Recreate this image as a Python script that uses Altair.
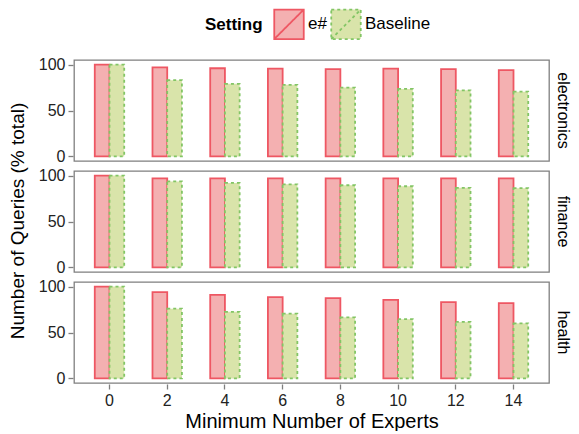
import altair as alt
import pandas as pd

experts = [0, 2, 4, 6, 8, 10, 12, 14]
settings = ["e#", "Baseline"]
domains = ["electronics", "finance", "health"]

electronics_esharp = [100, 97, 96, 95.5, 95, 95.5, 95, 94]
electronics_base = [100, 83, 79, 78, 75, 73.5, 72, 70.5]
finance_esharp = [100, 97, 97, 97, 97, 97, 97, 97]
finance_base = [100, 93.7, 92, 90.5, 89.5, 88.4, 86.7, 86.3]
health_esharp = [100, 94, 91, 88.5, 87.5, 85.5, 83, 82]
health_base = [100, 76, 72.5, 70.5, 66.5, 64.5, 61.5, 60]

series = {
    ("electronics", "e#"): electronics_esharp,
    ("electronics", "Baseline"): electronics_base,
    ("finance", "e#"): finance_esharp,
    ("finance", "Baseline"): finance_base,
    ("health", "e#"): health_esharp,
    ("health", "Baseline"): health_base,
}

rows = []
for (dom, s), vals in series.items():
    for e, v in zip(experts, vals):
        rows.append({"domain": dom, "Setting": s, "experts": e, "value": v})
df = pd.DataFrame(rows)

fill_colors = ["#F4B0B1", "#D9E4AA"]
stroke_colors = ["#EE5763", "#83C565"]
sym = "M-1,-1H1V1H-1Z M-1,1L1,-1"


def make_legend():
    return alt.Legend(
        title="Setting", orient="none", legendX=131, legendY=-52,
        direction="horizontal", symbolType=sym, symbolSize=870,
        symbolStrokeWidth=1.8, titleOrient="left", titleFontSize=17,
        titleFontWeight="bold", labelFontSize=17, titleColor="#000",
        labelColor="#000", symbolOpacity=1, columnPadding=0,
        labelOffset=3, titlePadding=10, titleBaseline="middle",
    )


base = alt.Chart(df).mark_bar(strokeWidth=1.8, fillOpacity=1).encode(
    x=alt.X(
        "experts:O",
        title="Minimum Number of Experts",
        scale=alt.Scale(paddingInner=0.49, paddingOuter=0.36),
        axis=alt.Axis(labelAngle=0, labelFontSize=16, titleFontSize=20,
                      titleFontWeight="normal", labelColor="#222",
                      tickColor="#7F7F7F", domain=False, tickSize=5,
                      tickWidth=1.3, labelPadding=3, titlePadding=3,
                      titleColor="#000"),
    ),
    xOffset=alt.XOffset("Setting:N", sort=settings),
    y=alt.Y(
        "value:Q",
        title=None,
        scale=alt.Scale(domain=[-5, 105], nice=False, zero=False),
        axis=alt.Axis(values=[0, 50, 100], labelFontSize=16, labelColor="#222",
                      tickColor="#7F7F7F", domain=False, grid=False, tickSize=5,
                      tickWidth=1.3, labelPadding=3),
    ),
    fill=alt.Fill(
        "Setting:N",
        sort=settings,
        scale=alt.Scale(domain=settings, range=fill_colors),
        legend=make_legend(),
    ),
    stroke=alt.Stroke(
        "Setting:N",
        sort=settings,
        scale=alt.Scale(domain=settings, range=stroke_colors),
        legend=make_legend(),
    ),
    strokeDash=alt.StrokeDash(
        "Setting:N",
        sort=settings,
        scale=alt.Scale(domain=settings, range=[[1, 0], [3, 3]]),
        legend=make_legend(),
    ),
).properties(width=475, height=101)

chart = base.facet(
    row=alt.Row(
        "domain:N",
        sort=domains,
        header=alt.Header(
            title="Number of Queries (% total)",
            titleOrient="left",
            titleFontSize=19,
            titleFontWeight="normal",
            titleColor="#000",
            titlePadding=0,
            labelOrient="right",
            labelAngle=90,
            labelFontSize=16,
            labelColor="#000",
            labelPadding=5,
        ),
    ),
    spacing=8,
).configure(
    font="Liberation Sans",
    view=alt.ViewConfig(stroke="#7F7F7F", strokeWidth=1.3),
).properties(
    padding={"left": 0, "right": 0, "top": 0, "bottom": 0}
)

chart.save("out.html", embed_options={"renderer": "svg", "actions": False})
